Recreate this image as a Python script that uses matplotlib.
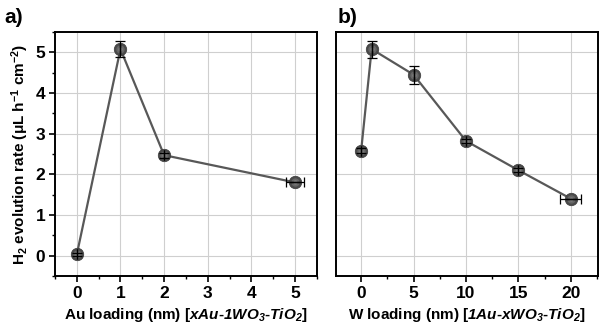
import matplotlib
matplotlib.use("Agg")
import matplotlib.pyplot as plt
from matplotlib.ticker import MultipleLocator

plt.rcParams['font.family'] = ['Liberation Sans', 'DejaVu Sans']
plt.rcParams['font.weight'] = 'bold'
plt.rcParams['mathtext.fontset'] = 'custom'
plt.rcParams['mathtext.rm'] = 'Liberation Sans:bold'
plt.rcParams['mathtext.bf'] = 'Liberation Sans:bold'
plt.rcParams['mathtext.it'] = 'Liberation Sans:italic:bold'
plt.rcParams['mathtext.bfit'] = 'Liberation Sans:italic:bold'
plt.rcParams['mathtext.default'] = 'bf'

# Au series (a)
au_x = [0, 1, 2, 5]
au_y = [0.03, 5.08, 2.47, 1.80]
au_yerr = [0.03, 0.20, 0.06, 0.0]
au_xerr = [0.0, 0.0, 0.0, 0.20]

# W series (b)
w_x = [0, 1, 5, 10, 15, 20]
w_y = [2.58, 5.08, 4.45, 2.82, 2.10, 1.40]
w_yerr = [0.06, 0.21, 0.22, 0.04, 0.05, 0.0]
w_xerr = [0.0, 0.0, 0.0, 0.0, 0.0, 1.0]

line_col = '#585858'


def sphere(ax, x, y):
    # shaded ball marker built from stacked circles
    ax.plot(x, y, 'o', ms=9, mfc='#4a4a4a', mec='#3a3a3a', mew=0.5, zorder=4)
    ax.plot(x, y, 'o', ms=6, mfc='#666666', mec='none', zorder=5)
    ax.plot(x, y, 'o', ms=3, mfc='#858585', mec='none', zorder=6)


def series(ax, x, y, xerr, yerr):
    ax.plot(x, y, '-', color=line_col, lw=1.6, zorder=3)
    ax.errorbar(x, y, xerr=xerr, yerr=yerr, fmt='none', ecolor='black',
                elinewidth=0.9, capsize=3.5, capthick=0.9, zorder=7)
    sphere(ax, x, y)


def style(ax):
    ax.grid(True, color='#cfcfcf', lw=0.8, zorder=0)
    ax.set_axisbelow(True)
    for s in ax.spines.values():
        s.set_linewidth(1.4)
    ax.tick_params(which='major', direction='out', length=4, width=1.2,
                   labelsize=12.5, top=False, right=False, pad=3)
    ax.tick_params(which='minor', direction='out', length=2.5, width=1.0,
                   top=False, right=False)
    ax.set_ylim(-0.5, 5.5)
    ax.yaxis.set_major_locator(MultipleLocator(1))


fig = plt.figure(figsize=(6.0, 3.32), dpi=100)
ax1 = fig.add_axes([0.0917, 0.169, 0.4363, 0.7346])
ax2 = fig.add_axes([0.56, 0.169, 0.4367, 0.7346])

series(ax1, au_x, au_y, au_xerr, au_yerr)
style(ax1)
ax1.set_xlim(-0.5, 5.5)
ax1.xaxis.set_major_locator(MultipleLocator(1))
ax1.xaxis.set_minor_locator(MultipleLocator(0.5))
ax1.yaxis.set_minor_locator(MultipleLocator(0.5))
ax1.set_xlabel(r'Au loading (nm) [$\mathbfit{xAu}$-$\mathbfit{1WO_3}$-$\mathbfit{TiO_2}$]',
               fontsize=11, fontweight='bold', labelpad=4)
ax1.set_ylabel(r'H$_2$ evolution rate ($\mu$L h$^{-1}$ cm$^{-2}$)',
               fontsize=11, fontweight='bold', labelpad=3)

series(ax2, w_x, w_y, w_xerr, w_yerr)
style(ax2)
ax2.set_xlim(-2.4, 22.6)
ax2.xaxis.set_major_locator(MultipleLocator(5))
ax2.xaxis.set_minor_locator(MultipleLocator(2.5))
ax2.tick_params(axis='y', which='both', left=False, labelleft=False)
ax2.set_xlabel(r'W loading (nm) [$\mathbfit{1Au}$-$\mathbfit{xWO_3}$-$\mathbfit{TiO_2}$]',
               fontsize=11, fontweight='bold', labelpad=4)

fig.text(0.008, 0.93, 'a)', fontsize=15, fontweight='bold')
fig.text(0.563, 0.93, 'b)', fontsize=15, fontweight='bold')

fig.savefig('out.png', dpi=100)
